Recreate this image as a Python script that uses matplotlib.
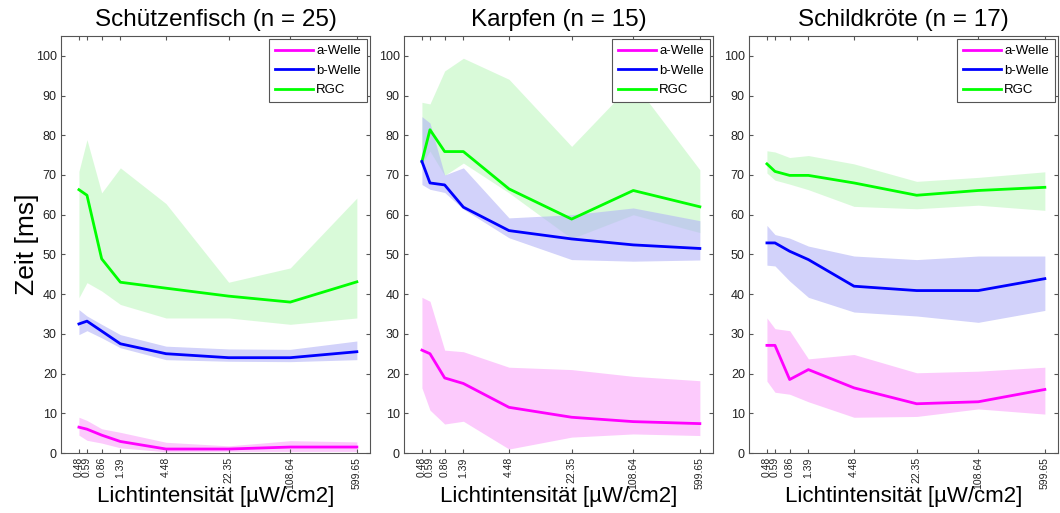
import numpy as np
import matplotlib
matplotlib.use("Agg")
import matplotlib.pyplot as plt
from matplotlib.ticker import FixedLocator, NullLocator

plt.rcParams['font.family'] = ['Liberation Sans', 'DejaVu Sans']

# light intensities (x, log scale)
intens = [0.48, 0.59, 0.86, 1.39, 4.48, 22.35, 108.64, 599.65]
intens_labels = ["0.48", "0.59", "0.86", "1.39", "4.48", "22.35", "108.64", "599.65"]

titles = ["Schützenfisch (n = 25)", "Karpfen (n = 15)", "Schildkröte (n = 17)"]

# Schützenfisch
fish_a = [6.5, 6.0, 4.5, 2.9, 1.0, 1.0, 1.5, 1.5]
fish_a_hi = [9.0, 8.2, 6.1, 5.2, 2.7, 1.8, 3.1, 2.8]
fish_a_lo = [4.5, 3.2, 2.5, 1.3, 0.3, 0.4, 0.4, 0.4]
fish_b = [32.5, 33.2, 30.7, 27.5, 25.0, 24.0, 24.0, 25.5]
fish_b_hi = [36.1, 34.5, 32.4, 29.8, 26.9, 26.2, 26.1, 28.2]
fish_b_lo = [29.8, 30.8, 29.0, 26.5, 23.5, 23.1, 23.0, 23.5]
fish_rgc = [66.3, 64.9, 48.9, 43.0, 41.5, 39.5, 38.0, 43.1]
fish_rgc_hi = [70.9, 78.9, 65.5, 71.8, 62.8, 43.0, 46.6, 64.2]
fish_rgc_lo = [39.1, 42.9, 40.8, 37.4, 34.0, 34.0, 32.4, 34.0]

# Karpfen
carp_a = [25.9, 25.0, 18.9, 17.5, 11.5, 9.0, 7.9, 7.4]
carp_a_hi = [39.2, 38.2, 25.9, 25.5, 21.6, 21.0, 19.3, 18.2]
carp_a_lo = [16.4, 10.8, 7.3, 8.0, 1.0, 4.0, 4.8, 4.4]
carp_b = [73.4, 68.0, 67.5, 61.9, 56.0, 53.9, 52.4, 51.5]
carp_b_hi = [84.7, 83.1, 70.0, 71.8, 59.2, 60.0, 61.7, 58.5]
carp_b_lo = [67.6, 66.4, 65.6, 61.4, 54.2, 48.7, 48.3, 48.6]
carp_rgc = [73.4, 81.4, 75.9, 75.9, 66.5, 58.9, 66.1, 62.0]
carp_rgc_hi = [88.3, 87.9, 96.2, 99.4, 94.1, 77.2, 93.4, 71.3]
carp_rgc_lo = [73.0, 76.0, 69.9, 73.0, 65.5, 54.0, 60.0, 55.5]

# Schildkröte
turt_a = [27.1, 27.1, 18.5, 21.0, 16.4, 12.4, 12.9, 16.0]
turt_a_hi = [34.0, 31.3, 30.8, 23.7, 24.8, 20.2, 20.6, 21.6]
turt_a_lo = [18.1, 15.3, 14.8, 12.9, 9.0, 9.2, 11.1, 9.8]
turt_b = [52.9, 52.9, 50.8, 48.7, 42.0, 40.9, 40.9, 43.9]
turt_b_hi = [57.3, 55.0, 54.1, 52.1, 49.6, 48.7, 49.6, 49.6]
turt_b_lo = [47.3, 47.1, 43.3, 39.2, 35.5, 34.5, 32.9, 35.9]
turt_rgc = [72.8, 70.9, 69.9, 69.9, 68.0, 64.9, 66.1, 66.9]
turt_rgc_hi = [76.1, 75.8, 74.4, 74.9, 72.8, 68.4, 69.4, 70.8]
turt_rgc_lo = [70.5, 68.7, 67.7, 66.3, 62.1, 61.5, 62.4, 61.1]

panels = [
    (fish_a, fish_a_hi, fish_a_lo, fish_b, fish_b_hi, fish_b_lo, fish_rgc, fish_rgc_hi, fish_rgc_lo),
    (carp_a, carp_a_hi, carp_a_lo, carp_b, carp_b_hi, carp_b_lo, carp_rgc, carp_rgc_hi, carp_rgc_lo),
    (turt_a, turt_a_hi, turt_a_lo, turt_b, turt_b_hi, turt_b_lo, turt_rgc, turt_rgc_hi, turt_rgc_lo),
]

line_cols = {"a": "#ff00ff", "b": "#0000ff", "rgc": "#00ff00"}
fill_cols = {"a": (250/255, 167/255, 250/255), "b": (180/255, 180/255, 247/255),
             "rgc": (193/255, 247/255, 193/255)}

fig = plt.figure(figsize=(10.6, 5.13), dpi=100)
lefts = [61, 404, 749]
W, H = 1060, 513
gray = "#555555"

for i, p in enumerate(panels):
    a, a_hi, a_lo, b, b_hi, b_lo, r, r_hi, r_lo = p
    ax = fig.add_axes([lefts[i] / W, 1 - 453 / H, 309 / W, (453 - 36) / H])
    ax.set_xscale("log")

    # draw order: RGC, b, a (fills cover earlier lines, as in the original)
    ax.fill_between(intens, r_lo, r_hi, color=fill_cols["rgc"], alpha=0.6, lw=0)
    l3, = ax.plot(intens, r, color=line_cols["rgc"], lw=2, label="RGC")
    ax.fill_between(intens, b_lo, b_hi, color=fill_cols["b"], alpha=0.6, lw=0)
    l2, = ax.plot(intens, b, color=line_cols["b"], lw=2, label="b-Welle")
    ax.fill_between(intens, a_lo, a_hi, color=fill_cols["a"], alpha=0.6, lw=0)
    l1, = ax.plot(intens, a, color=line_cols["a"], lw=2, label="a-Welle")

    ax.set_xlim(0.303, 840)
    ax.set_ylim(0, 105)
    ax.xaxis.set_major_locator(FixedLocator(intens))
    ax.xaxis.set_minor_locator(NullLocator())
    ax.set_xticklabels(intens_labels, rotation=90, fontsize=7.5, color="#222222")
    ax.set_yticks(range(0, 101, 10))
    ax.tick_params(axis="y", labelsize=9, labelcolor="#222222")
    ax.tick_params(direction="in", top=True, right=True, length=3, color=gray, pad=3)
    for s in ax.spines.values():
        s.set_color(gray)
        s.set_linewidth(0.8)

    ax.set_title(titles[i], fontsize=17.5, pad=7)
    ax.set_xlabel("Lichtintensität [µW/cm2]", fontsize=16)
    ax.xaxis.set_label_coords(0.5, -0.08)
    if i == 0:
        ax.set_ylabel("Zeit [ms]", fontsize=19)
        ax.yaxis.set_label_coords(-0.07, 0.5)

    leg = ax.legend(handles=[l1, l2, l3], loc="upper right", fontsize=9.5,
                    handlelength=2.9, handletextpad=0.2, borderaxespad=0.25,
                    labelspacing=0.55, fancybox=False, framealpha=1, borderpad=0.45)
    leg.get_frame().set_edgecolor(gray)
    leg.get_frame().set_linewidth(0.8)

fig.savefig("out.png", dpi=100)
